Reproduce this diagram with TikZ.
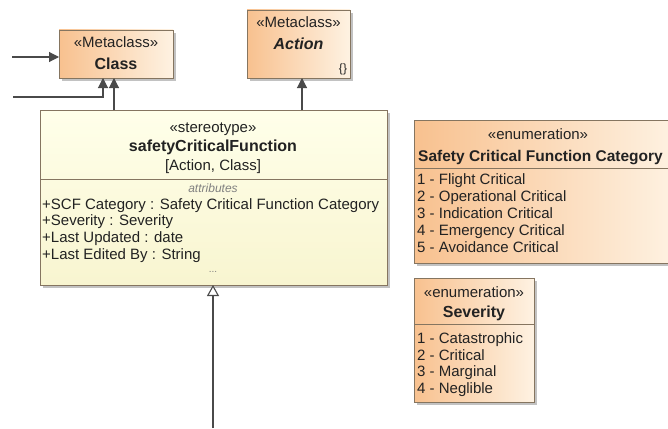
\documentclass[tikz,border=0pt]{standalone}
\usepackage{fontspec}
\setmainfont{Liberation Sans}
\usetikzlibrary{arrows.meta,calc,shadows}
\definecolor{orD}{HTML}{F8C18F}
\definecolor{orL}{HTML}{FEF2E2}
\definecolor{ylT}{HTML}{FFFFEA}
\definecolor{ylB}{HTML}{F8F5D0}
\definecolor{bord}{HTML}{857560}
\definecolor{ln}{HTML}{4A4A4A}
\definecolor{shd}{HTML}{A8A8A8}
\definecolor{txt}{HTML}{222222}
\begin{document}
\begin{tikzpicture}[x=1pt,y=-1pt,
  font=\fontsize{15}{17}\selectfont,
  box/.style={draw=bord, line width=0.8pt, inner sep=0pt, outer sep=0pt, anchor=north west,
    drop shadow={shadow xshift=3pt, shadow yshift=-3pt, fill=shd, opacity=0.7}},
  obox/.style={box, left color=orD, right color=orL},
  ybox/.style={box, top color=ylT, bottom color=ylB},
  lbl/.style={inner sep=0pt, text=txt, text height=11pt, text depth=3pt},
  item/.style={lbl, anchor=west},
  bold/.style={font=\fontsize{16}{18}\selectfont\bfseries},
  gray note/.style={inner sep=0pt, text=gray, font=\fontsize{12}{14}\selectfont\itshape},
  sep/.style={draw=bord, line width=0.8pt},
  assoc/.style={draw=ln, line width=1.1pt, -{Triangle[width=10pt,length=10pt,fill=ln]}},
  gen/.style={draw=ln, line width=1.1pt, -{Triangle[open,width=12pt,length=11pt,fill=white]}}
]
\useasboundingbox (0,0) rectangle (668,428);

% Class metaclass
\node[obox, minimum width=114pt, minimum height=48pt] (cls) at (59,30) {};
\node[lbl] (clsS) at (116,44) {«Metaclass»};
\node[lbl, bold] (clsN) at (116,65) {Class};

% Action metaclass
\node[obox, minimum width=103pt, minimum height=68pt] (act) at (247,10) {};
\node[lbl] (actS) at (298.5,24) {«Metaclass»};
\node[lbl, font=\fontsize{16}{18}\selectfont\bfseries\itshape] (actN) at (298.5,45) {Action};
\node[lbl, font=\fontsize{12}{14}\selectfont] (actB) at (343,68) {\{\}};

% stereotype
\node[ybox, minimum width=347pt, minimum height=175pt] (scf) at (40,110) {};
\node[lbl] (scfS) at (213,128) {«stereotype»};
\node[lbl, bold] (scfN) at (213,147) {safetyCriticalFunction};
\node[lbl] (scfM) at (213,166) {[Action, Class]};
\draw[sep] (scf.west |- 0,179) coordinate (s1) -- (s1 -| scf.east);
\node[gray note] (scfA) at (213,188) {attributes};
\node[item] (a1) at (42,205) {+SCF Category : Safety Critical Function Category};
\node[item] (a2) at (42,221) {+Severity : Severity};
\node[item] (a3) at (42,238) {+Last Updated : date};
\node[item] (a4) at (42,255) {+Last Edited By : String};
\node[gray note, font=\fontsize{10}{12}\selectfont] (scfD) at (213,272) {...};

% enumeration SCF category
\node[obox, minimum width=262pt, minimum height=143pt] (e1) at (414,120) {};
\node[lbl] (e1S) at (538,135) {«enumeration»};
\node[lbl, anchor=west, font=\fontsize{15.5}{18}\selectfont\bfseries] (e1N) at (418,157) {Safety Critical Function Category};
\draw[sep] (e1.west |- 0,168) coordinate (s2) -- (s2 -| e1.east);
\node[item] (e11) at (417,180) {1 - Flight Critical};
\node[item] (e12) at (417,197) {2 - Operational Critical};
\node[item] (e13) at (417,214) {3 - Indication Critical};
\node[item] (e14) at (417,231) {4 - Emergency Critical};
\node[item] (e15) at (417,248) {5 - Avoidance Critical};

% enumeration Severity
\node[obox, minimum width=120pt, minimum height=124pt] (e2) at (414,278) {};
\node[lbl] (e2S) at (474,293) {«enumeration»};
\node[lbl, bold] (e2N) at (474,313) {Severity};
\draw[sep] (e2.west |- 0,324) coordinate (s3) -- (s3 -| e2.east);
\node[item] (e21) at (417,339) {1 - Catastrophic};
\node[item] (e22) at (417,356) {2 - Critical};
\node[item] (e23) at (417,372) {3 - Marginal};
\node[item] (e24) at (417,389) {4 - Neglible};

% connectors
\coordinate (in1) at (12,57);
\coordinate (in2) at (13,97);
\coordinate (g) at (213,428);
\draw[assoc] (in1) -- (in1 -| cls.west);
\draw[assoc] (in2) -| ($(cls.south west)+(44,0)$);
\draw[assoc] ($(scf.north west)+(74,0)$) coordinate (p1) -- (p1 |- cls.south);
\draw[assoc] ($(scf.north west)+(262,0)$) coordinate (p2) -- (p2 |- act.south);
\draw[gen] (g) -- (g |- scf.south);
\end{tikzpicture}
\end{document}
